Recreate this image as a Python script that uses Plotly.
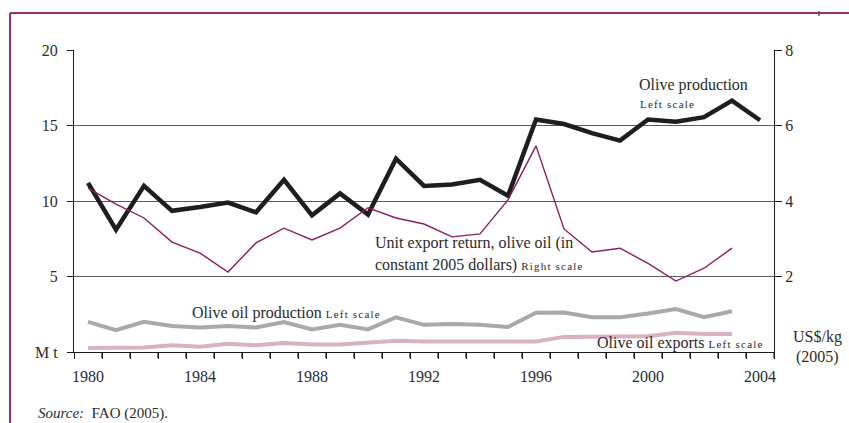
import plotly.graph_objects as go

# Years shown on the category axis (1980-2004)
years = list(range(1980, 2005))
tick_years = [1980, 1984, 1988, 1992, 1996, 2000, 2004]

# Olive production, Mt (left scale), 1980-2004
olive_production = [11.2, 8.1, 11.0, 9.35, 9.6, 9.9, 9.25, 11.4, 9.05, 10.5,
                    9.1, 12.8, 11.0, 11.1, 11.4, 10.35, 15.4, 15.1, 14.5, 14.0,
                    15.4, 15.25, 15.55, 16.65, 15.35]

# Olive oil production, Mt (left scale), 1980-2003
oil_production = [2.0, 1.45, 2.0, 1.72, 1.62, 1.72, 1.62, 1.98, 1.5, 1.8,
                  1.5, 2.3, 1.8, 1.85, 1.8, 1.65, 2.6, 2.62, 2.3, 2.3,
                  2.55, 2.85, 2.3, 2.7]

# Olive oil exports, Mt (left scale), 1980-2003
oil_exports = [0.27, 0.27, 0.3, 0.45, 0.35, 0.55, 0.45, 0.6, 0.5, 0.5,
               0.6, 0.75, 0.7, 0.7, 0.75, 0.7, 0.7, 1.0, 1.0, 1.05,
               1.05, 1.28, 1.2, 1.2]

# Unit export return, olive oil, constant 2005 US$/kg (right scale), 1980-2003
unit_return = [4.34, 3.92, 3.55, 2.91, 2.62, 2.12, 2.89, 3.28, 2.97, 3.28,
               3.82, 3.55, 3.39, 3.05, 3.13, 4.03, 5.46, 3.26, 2.65, 2.75,
               2.35, 1.88, 2.22, 2.75]

FONT = "Liberation Serif, Times New Roman, serif"
TXT = "#2b2b2b"
FRAME = "#9b2f6e"

# plot area in pixels: x 74..774, y 50..352 on an 849x423 page
PL, PR, PT, PB = 74, 774, 50, 352


def px(x, y):
    """Pixel position -> paper coordinates."""
    return (x - PL) / (PR - PL), (PB - y) / (PB - PT)


fig = go.Figure()

fig.add_trace(go.Scatter(x=years[:len(oil_exports)], y=oil_exports, mode="lines",
                         line=dict(color="#d9b1c1", width=4), xaxis="x", yaxis="y",
                         name="Olive oil exports"))
fig.add_trace(go.Scatter(x=years[:len(oil_production)], y=oil_production, mode="lines",
                         line=dict(color="#a9a9a9", width=4), xaxis="x", yaxis="y",
                         name="Olive oil production"))
fig.add_trace(go.Scatter(x=years[:len(unit_return)], y=unit_return, mode="lines",
                         line=dict(color="#8c1d5e", width=1.4), xaxis="x2", yaxis="y2",
                         name="Unit export return"))
fig.add_trace(go.Scatter(x=years, y=olive_production, mode="lines",
                         line=dict(color="#1e1e1e", width=4.5), xaxis="x", yaxis="y",
                         name="Olive production"))

xrange = [years[0] - 0.5, years[-1] + 0.5]
boundaries = [y - 0.5 for y in years] + [years[-1] + 0.5]
tickfont = dict(family=FONT, size=16, color=TXT)

annotations = []


def add_text(x, y, text, size=16, xanchor="left", yanchor="middle"):
    ax, ay = px(x, y)
    annotations.append(dict(x=ax, y=ay, xref="paper", yref="paper", text=text,
                            showarrow=False, xanchor=xanchor, yanchor=yanchor,
                            font=dict(family=FONT, size=size, color=TXT)))


def scale_note(label):
    return ("<span style='font-size:11px;letter-spacing:1.2px'>"
            + label + "</span>")


add_text(637, 85, "Olive production")
add_text(638, 104, scale_note("Left scale"))
add_text(373, 243, "Unit export return, olive oil (in")
add_text(373, 265, "constant 2005 dollars) " + scale_note("Right scale"))
add_text(190, 313, "Olive oil production " + scale_note("Left scale"))
add_text(595, 343, "Olive oil exports " + scale_note("Left scale"))
add_text(817, 337, "US$/kg", xanchor="center")
add_text(817, 357, "(2005)", xanchor="center")
add_text(36, 413, "<i>Source:</i>  FAO (2005).", size=15)

# frame lines along the top and left edge
x0, y0 = px(10, 13)
x1, _ = px(849, 13)
_, y1 = px(10, 423)
shapes = [
    dict(type="line", xref="paper", yref="paper", x0=x0, y0=y0, x1=x1, y1=y0,
         line=dict(color=FRAME, width=2)),
    dict(type="line", xref="paper", yref="paper", x0=x0, y0=y0, x1=x0, y1=y1,
         line=dict(color=FRAME, width=2)),
]
tx, ty0 = px(819, 11)
_, ty1 = px(819, 16)
shapes.append(dict(type="line", xref="paper", yref="paper", x0=tx, y0=ty0, x1=tx, y1=ty1,
                   line=dict(color="#555555", width=1.5)))

# small tick marks between the year bands, hanging below the axis
_, tick_bottom = px(0, PB + 6)
for b in boundaries:
    shapes.append(dict(type="line", xref="x", yref="paper", x0=b, x1=b,
                       y0=0, y1=tick_bottom,
                       line=dict(color="#1a1a1a", width=1.2)))

fig.update_layout(
    width=849, height=423,
    margin=dict(l=PL, r=849 - PR, t=PT, b=423 - PB),
    paper_bgcolor="white", plot_bgcolor="white",
    showlegend=False,
    xaxis=dict(range=xrange, tickmode="array", tickvals=boundaries,
               ticktext=[""] * len(boundaries),
               ticks="outside", ticklen=6, tickwidth=1.2, tickcolor="#1a1a1a",
               showgrid=False, zeroline=False,
               showline=True, linecolor="#1a1a1a", linewidth=1.3),
    # year labels sit at the band centres
    xaxis2=dict(range=xrange, overlaying="x", anchor="y", side="bottom",
                tickmode="array", tickvals=tick_years,
                ticktext=[str(y) for y in tick_years], ticks="",
                tickfont=tickfont, showgrid=False, zeroline=False,
                showline=False, ticklabelstandoff=13),
    yaxis=dict(range=[0, 20], tickmode="array", tickvals=[0, 5, 10, 15, 20],
               ticktext=["M t", "5", "10", "15", "20"], ticks="outside", ticklen=6,
               tickcolor="#1a1a1a", tickfont=tickfont, showgrid=True,
               gridcolor="#5a5a5a", gridwidth=1, zeroline=False, showline=True,
               linecolor="#1a1a1a", linewidth=1.3, ticklabelstandoff=6),
    yaxis2=dict(range=[0, 8], overlaying="y", side="right", anchor="x",
                tickmode="array", tickvals=[2, 4, 6, 8], ticks="outside",
                ticklen=7, tickcolor="#1a1a1a", tickfont=tickfont, showgrid=False,
                zeroline=False, showline=True, linecolor="#1a1a1a", linewidth=1.3),
    annotations=annotations,
    shapes=shapes,
)

fig.write_html("out.html")
